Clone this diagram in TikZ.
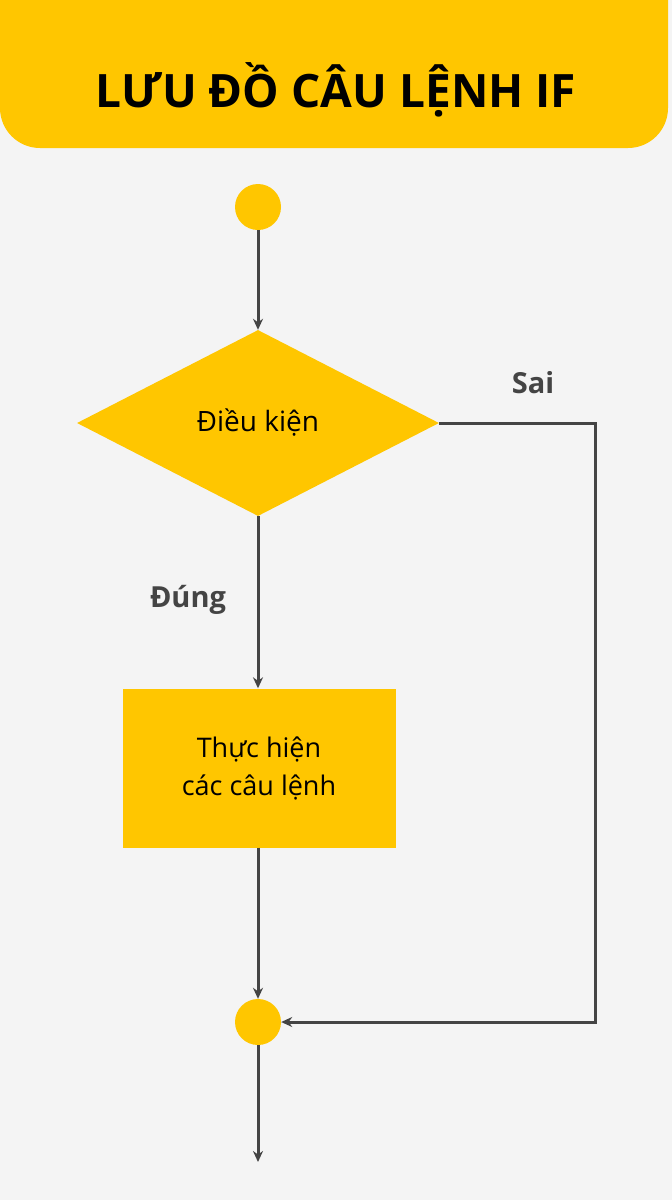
\documentclass[tikz,border=0pt]{standalone}
\usepackage{fontspec}
\setmainfont{Open Sans}
\usetikzlibrary{shapes.geometric,arrows.meta}
\definecolor{ifyellow}{HTML}{FFC600}
\definecolor{ifline}{HTML}{444444}
\definecolor{ifbg}{HTML}{F4F4F4}
\tikzset{
  flowline/.style={draw=ifline, line width=3pt, -{Stealth[length=11pt,width=10pt]}},
  dot/.style={circle, fill=ifyellow, minimum size=46pt, inner sep=0pt},
  cond/.style={diamond, fill=ifyellow, minimum width=362pt, minimum height=186pt, aspect=1.95, inner sep=0pt, font=\fontsize{28}{32}\selectfont},
  stepbox/.style={rectangle, fill=ifyellow, minimum width=273pt, minimum height=159pt, align=center, font=\fontsize{27}{38}\selectfont},
  lbl/.style={text=ifline, font=\bfseries\fontsize{29}{32}\selectfont}
}
\begin{document}
\begin{tikzpicture}[x=1pt,y=-1pt]
  \useasboundingbox[fill=ifbg] (0,0) rectangle (672,1200);

  % header
  \fill[ifyellow] (0,0) -- (668,0) -- (668,108) arc[start angle=0,end angle=90,radius=40] -- (40,148) arc[start angle=90,end angle=180,radius=40] -- cycle;
  \node[font=\bfseries\fontsize{46}{50}\selectfont] (title) at (336,90) {LƯU ĐỒ CÂU LỆNH IF};

  % nodes
  \node[dot] (start) at (258,207) {};
  \node[cond] (ifcond) at (258,423) {Điều kiện};
  \node[stepbox] (body) at (259,768) {Thực hiện\\các câu lệnh};
  \node[dot] (join) at (258,1022) {};
  \coordinate (outpt) at (258,1162);
  \coordinate (corner1) at (595,423);
  \coordinate (corner2) at (595,1022);

  % connectors
  \draw[flowline] (start) -- (ifcond.north);
  \draw[flowline] (ifcond.south) -- (body.north -| ifcond.south);
  \draw[flowline] (body.south -| join) -- (join);
  \draw[flowline] (join) -- (outpt);
  \draw[flowline] (ifcond.east) -- (corner1) -- (corner2) -- (join);

  % labels
  \node[lbl] (yes) at (188,600) {Đúng};
  \node[lbl] (no) at (533,383) {Sai};
\end{tikzpicture}
\end{document}
